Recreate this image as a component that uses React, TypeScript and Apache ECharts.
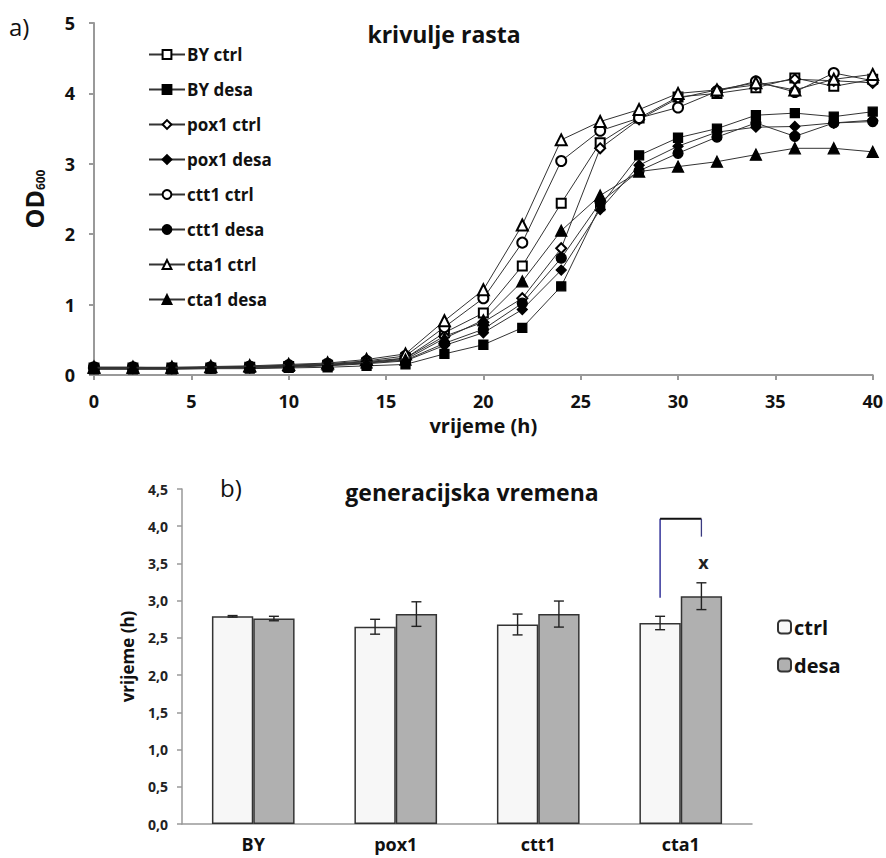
import React, { useEffect, useRef } from "react";
import * as echarts from "echarts";

const hours = [0, 2, 4, 6, 8, 10, 12, 14, 16, 18, 20, 22, 24, 26, 28, 30, 32, 34, 36, 38, 40];

const byCtrl = [0.1, 0.1, 0.1, 0.1, 0.11, 0.12, 0.14, 0.17, 0.24, 0.6, 0.88, 1.55, 2.44, 3.3, 3.65, 3.95, 4.0, 4.08, 4.22, 4.1, 4.2];
const byDesa = [0.08, 0.08, 0.08, 0.09, 0.09, 0.1, 0.11, 0.13, 0.15, 0.3, 0.43, 0.67, 1.26, 2.4, 3.12, 3.37, 3.5, 3.69, 3.72, 3.67, 3.74];
const pox1Ctrl = [0.1, 0.1, 0.1, 0.11, 0.12, 0.13, 0.15, 0.19, 0.24, 0.55, 0.75, 1.09, 1.8, 3.22, 3.63, 3.93, 4.05, 4.12, 4.2, 4.18, 4.15];
const pox1Desa = [0.09, 0.09, 0.09, 0.1, 0.1, 0.11, 0.13, 0.16, 0.2, 0.42, 0.6, 0.93, 1.49, 2.35, 2.98, 3.25, 3.45, 3.52, 3.53, 3.58, 3.62];
const ctt1Ctrl = [0.11, 0.11, 0.1, 0.11, 0.12, 0.14, 0.16, 0.2, 0.27, 0.68, 1.09, 1.88, 3.04, 3.47, 3.65, 3.8, 4.03, 4.17, 4.02, 4.29, 4.18];
const ctt1Desa = [0.1, 0.1, 0.09, 0.1, 0.11, 0.12, 0.14, 0.17, 0.21, 0.45, 0.65, 1.02, 1.66, 2.45, 2.9, 3.15, 3.38, 3.58, 3.39, 3.58, 3.6];
const cta1Ctrl = [0.11, 0.11, 0.11, 0.12, 0.13, 0.15, 0.17, 0.22, 0.3, 0.77, 1.21, 2.13, 3.34, 3.6, 3.77, 4.0, 4.05, 4.15, 4.05, 4.2, 4.27];
const cta1Desa = [0.1, 0.1, 0.1, 0.11, 0.12, 0.13, 0.15, 0.18, 0.22, 0.52, 0.78, 1.33, 2.05, 2.55, 2.89, 2.96, 3.03, 3.13, 3.22, 3.22, 3.17];

const lineSeriesNames = ["BY ctrl", "BY desa", "pox1 ctrl", "pox1 desa", "ctt1 ctrl", "ctt1 desa", "cta1 ctrl", "cta1 desa"];
const lineSeriesValues = [byCtrl, byDesa, pox1Ctrl, pox1Desa, ctt1Ctrl, ctt1Desa, cta1Ctrl, cta1Desa];
const lineSymbols = ["emptyRect", "rect", "emptyDiamond", "diamond", "emptyCircle", "circle", "emptyTriangle", "triangle"];
const lineSymbolSizes = [9, 9, 10, 10, 10, 10, 11, 11];

const strains = ["BY", "pox1", "ctt1", "cta1"];
const genCtrl = [2.79, 2.65, 2.68, 2.7];
const genCtrlErr = [0.01, 0.1, 0.14, 0.09];
const genDesa = [2.76, 2.82, 2.82, 3.06];
const genDesaErr = [0.03, 0.165, 0.175, 0.18];

// significance bracket: category, left leg bottom, top, right leg bottom, mark position
const bracketCategory = 3;
const bracketLeftBottom = 3.04;
const bracketTop = 4.1;
const bracketRightBottom = 3.86;
const bracketMarkValue = 3.52;
const bracketMark = "x";

const FONT = "'Open Sans', 'Noto Sans', sans-serif";
const BAR_FRAC = 0.29;
const TXT = "#111";

export default function App() {
  const ref = useRef<HTMLDivElement>(null);
  useEffect(() => {
    if (!ref.current) return;
    const chart = echarts.init(ref.current, null, { renderer: "svg" });

    const lineSeries = lineSeriesNames.map((name, i) => ({
      name,
      type: "line",
      xAxisIndex: 0,
      yAxisIndex: 0,
      data: hours.map((h, j) => [h, lineSeriesValues[i][j]]),
      symbol: lineSymbols[i],
      symbolSize: lineSymbolSizes[i],
      lineStyle: { color: "#333", width: 1 },
      itemStyle: { color: "#000", borderColor: "#000", borderWidth: 1.3 },
      z: 3 + i,
    }));

    const errData = (vals: number[], errs: number[], side: number) =>
      vals.map((v, i) => [i, v, errs[i], side]);

    const errorRender = (params: any, api: any) => {
      const idx = api.value(0);
      const v = api.value(1);
      const e = api.value(2);
      const side = api.value(3);
      const band = api.size([1, 0])[0];
      const off = (side * band * BAR_FRAC) / 2;
      const hi = api.coord([idx, v + e]);
      const lo = api.coord([idx, v - e]);
      const x = hi[0] + off;
      const cap = 5;
      const st = { stroke: "#222", lineWidth: 1.4 };
      return {
        type: "group",
        children: [
          { type: "line", shape: { x1: x, y1: hi[1], x2: x, y2: lo[1] }, style: st },
          { type: "line", shape: { x1: x - cap, y1: hi[1], x2: x + cap, y2: hi[1] }, style: st },
          { type: "line", shape: { x1: x - cap, y1: lo[1], x2: x + cap, y2: lo[1] }, style: st },
        ],
      };
    };

    const bracketRender = (params: any, api: any) => {
      const idx = api.value(0);
      const band = api.size([1, 0])[0];
      const off = (band * BAR_FRAC) / 2;
      const c = api.coord([idx, api.value(1)]);
      const t = api.coord([idx, api.value(2)]);
      const r = api.coord([idx, api.value(3)]);
      const m = api.coord([idx, api.value(4)]);
      const xl = c[0] - off;
      const xr = c[0] + off;
      return {
        type: "group",
        children: [
          { type: "line", shape: { x1: xl, y1: c[1], x2: xl, y2: t[1] }, style: { stroke: "#14148a", lineWidth: 1.3 } },
          { type: "line", shape: { x1: xl, y1: t[1], x2: xr, y2: t[1] }, style: { stroke: "#111", lineWidth: 2 } },
          { type: "line", shape: { x1: xr, y1: t[1], x2: xr, y2: r[1] }, style: { stroke: "#3a3a80", lineWidth: 1.3 } },
          {
            type: "text",
            x: xr + 2,
            y: m[1],
            style: { text: bracketMark, font: `bold 18px ${FONT}`, fill: "#222", align: "center", verticalAlign: "middle" },
          },
        ],
      };
    };

    const option: any = {
      animation: false,
      backgroundColor: "#fff",
      textStyle: { fontFamily: FONT },
      title: [
        { text: "krivulje rasta", left: 444, top: 22, textAlign: "center", padding: 0, textStyle: { fontSize: 23, fontWeight: "bold", color: TXT, fontFamily: FONT } },
        { text: "generacijska vremena", left: 472, top: 480, textAlign: "center", padding: 0, textStyle: { fontSize: 23, fontWeight: "bold", color: TXT, fontFamily: FONT } },
      ],
      graphic: [
        { type: "text", left: 9, top: 14, style: { text: "a)", font: `24px ${FONT}`, fill: TXT } },
        { type: "text", left: 220, top: 475, style: { text: "b)", font: `24px ${FONT}`, fill: TXT } },
      ],
      legend: [
        {
          data: lineSeriesNames,
          orient: "vertical",
          left: 143,
          top: 41,
          itemGap: 18,
          itemWidth: 36,
          itemHeight: 11,
          textStyle: { fontSize: 17, fontWeight: "bold", color: TXT, fontFamily: FONT, padding: [0, 0, 0, -3] },
        },
        {
          data: ["ctrl", "desa"],
          orient: "vertical",
          left: 772,
          top: 612,
          itemGap: 18,
          itemWidth: 13,
          itemHeight: 13,
          textStyle: { fontSize: 20, fontWeight: "bold", color: TXT, fontFamily: FONT, padding: [0, 0, 0, -2] },
        },
      ],
      grid: [
        { left: 94, top: 23, width: 782, height: 352 },
        { left: 182, top: 489, width: 570, height: 335 },
      ],
      xAxis: [
        {
          gridIndex: 0,
          type: "value",
          min: 0,
          max: 40,
          interval: 5,
          name: "vrijeme (h)",
          nameLocation: "middle",
          nameGap: 40,
          nameTextStyle: { fontSize: 20, fontWeight: "bold", color: TXT, fontFamily: FONT },
          axisLine: { lineStyle: { color: "#999", width: 2 } },
          axisTick: { show: true, length: 5, lineStyle: { color: "#999", width: 2 } },
          axisLabel: { fontSize: 18, fontWeight: "bold", color: TXT, margin: 17, fontFamily: FONT },
          splitLine: { show: false },
        },
        {
          gridIndex: 1,
          type: "category",
          data: strains,
          axisLine: { lineStyle: { color: "#999", width: 1.5 } },
          axisTick: { show: false },
          axisLabel: { fontSize: 18, fontWeight: "bold", color: TXT, margin: 11, fontFamily: FONT },
        },
      ],
      yAxis: [
        {
          gridIndex: 0,
          type: "value",
          min: 0,
          max: 5,
          interval: 1,
          name: "{a|OD}{b|600}",
          nameLocation: "middle",
          nameRotate: 90,
          nameGap: 48,
          nameTextStyle: {
            rich: {
              a: { fontSize: 25, fontWeight: "bold", color: TXT, fontFamily: FONT },
              b: { fontSize: 12, fontWeight: "bold", color: TXT, fontFamily: FONT, verticalAlign: "bottom", padding: [12, 0, 0, 0] },
            },
          },
          axisLine: { show: true, lineStyle: { color: "#999", width: 2 } },
          axisTick: { show: true, length: 5, lineStyle: { color: "#999", width: 2 } },
          axisLabel: { fontSize: 18, fontWeight: "bold", color: TXT, margin: 19, fontFamily: FONT },
          splitLine: { show: false },
        },
        {
          gridIndex: 1,
          type: "value",
          min: 0,
          max: 4.5,
          interval: 0.5,
          name: "vrijeme (h)",
          nameLocation: "middle",
          nameRotate: 90,
          nameGap: 46,
          nameTextStyle: { fontSize: 17, fontWeight: "bold", color: TXT, fontFamily: FONT },
          axisLine: { show: true, lineStyle: { color: "#999", width: 1.5 } },
          axisTick: { show: true, length: 5, lineStyle: { color: "#999", width: 1.5 } },
          axisLabel: {
            fontSize: 14,
            fontWeight: "bold",
            color: "#222",
            margin: 14,
            fontFamily: FONT,
            formatter: (v: number) => v.toFixed(1).replace(".", ","),
          },
          splitLine: { show: false },
        },
      ],
      series: [
        ...lineSeries,
        {
          name: "ctrl",
          type: "bar",
          xAxisIndex: 1,
          yAxisIndex: 1,
          data: genCtrl,
          barWidth: `${BAR_FRAC * 100}%`,
          barGap: "0%",
          itemStyle: { color: "#f7f7f7", borderColor: "#333", borderWidth: 1.5 },
        },
        {
          name: "desa",
          type: "bar",
          xAxisIndex: 1,
          yAxisIndex: 1,
          data: genDesa,
          barWidth: `${BAR_FRAC * 100}%`,
          barGap: "0%",
          itemStyle: { color: "#b0b0b0", borderColor: "#333", borderWidth: 1.5 },
        },
        {
          type: "custom",
          xAxisIndex: 1,
          yAxisIndex: 1,
          renderItem: errorRender,
          data: errData(genCtrl, genCtrlErr, -1),
          z: 10,
        },
        {
          type: "custom",
          xAxisIndex: 1,
          yAxisIndex: 1,
          renderItem: errorRender,
          data: errData(genDesa, genDesaErr, 1),
          z: 10,
        },
        {
          type: "custom",
          xAxisIndex: 1,
          yAxisIndex: 1,
          renderItem: bracketRender,
          data: [[bracketCategory, bracketLeftBottom, bracketTop, bracketRightBottom, bracketMarkValue]],
          z: 10,
        },
      ],
    };
    chart.setOption(option);
    return () => chart.dispose();
  }, []);
  return <div ref={ref} style={{ position: "fixed", left: 0, top: 0, width: 886, height: 858 }} />;
}
